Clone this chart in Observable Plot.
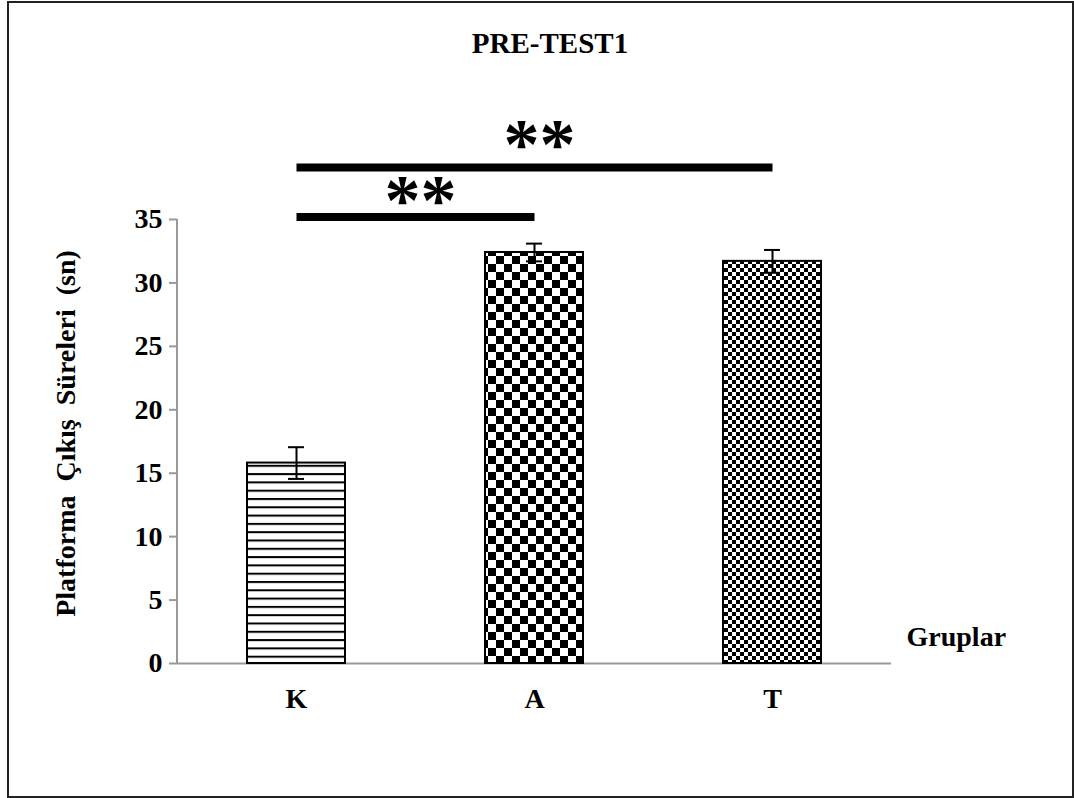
<!DOCTYPE html>
<html>
<head>
<meta charset="utf-8">
<script src="https://cdn.jsdelivr.net/npm/d3@7"></script>
<script src="https://cdn.jsdelivr.net/npm/@observablehq/plot@0.6"></script>
<style>
  html, body { margin: 0; padding: 0; background: #fff; }
  #wrap { position: relative; width: 1074px; height: 798px; font-family: "Liberation Serif", "Times New Roman", serif; }
  #border { position: absolute; left: 7px; top: 1px; width: 1063px; height: 793px; border: 2px solid #222; box-sizing: content-box; pointer-events: none; }
  #title { position: absolute; left: 13px; width: 1074px; top: 29px; line-height: 29px; text-align: center; font-weight: bold; font-size: 29px; }
  #chart { position: absolute; left: 0; top: 0; }
</style>
</head>
<body>
<div id="wrap">
  <div id="chart"></div>
  <div id="title">PRE-TEST1</div>
  <div id="border"></div>
</div>
<script>
const groups = ["K", "A", "T"];
const means = [15.8, 32.4, 31.7];
const errors = [1.25, 0.7, 0.9];
const patterns = ["hlines", "checker", "finechecker"];
const yTicks = [0, 5, 10, 15, 20, 25, 30, 35];
const sigFrom = ["K", "K"];
const sigTo = ["A", "T"];
const sigLevel = [35.2, 39.1];
const sigStarLevel = [37.0, 41.4];
const sigLabel = ["**", "**"];

const data = groups.map((g, i) => ({group: g, mean: means[i], err: errors[i], pat: patterns[i]}));
const sig = sigFrom.map((f, i) => ({from: f, to: sigTo[i], level: sigLevel[i], star: sigStarLevel[i], label: sigLabel[i]}));

const font = '"Liberation Serif", "Times New Roman", serif';
const FS = 28;

function yAxisLine(index, scales, values, dims) {
  const y = scales.y;
  const g = d3.create("svg:g");
  g.append("line")
    .attr("x1", dims.marginLeft).attr("x2", dims.marginLeft)
    .attr("y1", y(0) + 1).attr("y2", y(35))
    .attr("stroke", "#999").attr("stroke-width", 2);
  return g.node();
}

const plot = Plot.plot({
  width: 1074,
  height: 798,
  marginTop: 219,
  marginBottom: 135,
  marginLeft: 177,
  marginRight: 183,
  style: {fontFamily: font, fontSize: FS + "px", fontWeight: "bold", color: "#000", background: "transparent"},
  x: {domain: groups, paddingInner: 0.59, paddingOuter: 0.295, label: null},
  y: {domain: [0, 35], label: null},
  marks: [
    Plot.axisY({ticks: yTicks, tickSize: 8, tickPadding: 7, stroke: "#999", strokeWidth: 2, fill: "#000", fontSize: FS, fontWeight: "bold", label: null}),
    yAxisLine,
    Plot.axisX({tickSize: 0, tickPadding: 25, fontSize: FS, fontWeight: "bold", fill: "#000", label: null}),
    Plot.ruleY([0], {stroke: "#999", strokeWidth: 2}),
    Plot.barY(data, {x: "group", y: "mean", fill: d => `url(#${d.pat})`, stroke: "#000", strokeWidth: 2}),
    Plot.ruleX(data, {x: "group", y1: d => d.mean - d.err, y2: d => d.mean + d.err, stroke: "#000", strokeWidth: 2}),
    Plot.tickY(data.flatMap(d => [{group: d.group, v: d.mean - d.err}, {group: d.group, v: d.mean + d.err}]),
      {x: "group", y: "v", stroke: "#000", strokeWidth: 2, inset: 41}),
    Plot.link(sig, {
      x1: "from", x2: "to", y1: "level", y2: "level",
      stroke: "#000", strokeWidth: 8, strokeLinecap: "butt"
    }),
    Plot.text(sig, {
      x: "from", y: "star", text: "label",
      render(index, scales, values, dimensions, context, next) {
        const g = next(index, scales, values, dimensions, context);
        // the group is already offset by half a band
        d3.select(g).selectAll("text").each(function(_, k) {
          const d = sig[index[k]];
          const xa = scales.x(d.from);
          const xb = scales.x(d.to);
          const y = scales.y(d.star);
          d3.select(this).attr("transform", `translate(${(xa + xb) / 2 + 5},${y + 7})`);
        });
        return g;
      },
      fontSize: 72, fontWeight: "bold", fill: "#000", textAnchor: "middle", lineAnchor: "middle", letterSpacing: 7
    }),
    Plot.text(["Platforma  Çıkış  Süreleri  (sn)"], {
      frameAnchor: "left", text: d => d, rotate: -90, textAnchor: "middle", lineAnchor: "top",
      dx: -122, dy: -8, fontSize: FS, fontWeight: "bold", fill: "#000"
    }),
    Plot.text(["Gruplar"], {frameAnchor: "bottom-right", text: d => d, textAnchor: "start", dx: 15, dy: -18, fontSize: FS, fontWeight: "bold", fill: "#000"})
  ]
});

// Pattern definitions for bar fills
const svg = d3.select(plot);
const defs = svg.insert("defs", ":first-child");
const h = defs.append("pattern").attr("id", "hlines").attr("patternUnits", "userSpaceOnUse").attr("width", 8).attr("height", 8.3);
h.append("rect").attr("width", 8).attr("height", 8.3).attr("fill", "#fff");
h.append("rect").attr("y", 0).attr("width", 8).attr("height", 2).attr("fill", "#000");
const c = defs.append("pattern").attr("id", "checker").attr("patternUnits", "userSpaceOnUse").attr("width", 16).attr("height", 16);
c.append("rect").attr("width", 16).attr("height", 16).attr("fill", "#fff");
c.append("rect").attr("width", 8).attr("height", 8).attr("fill", "#000");
c.append("rect").attr("x", 8).attr("y", 8).attr("width", 8).attr("height", 8).attr("fill", "#000");
const f = defs.append("pattern").attr("id", "finechecker").attr("patternUnits", "userSpaceOnUse").attr("width", 8).attr("height", 8);
f.append("rect").attr("width", 8).attr("height", 8).attr("fill", "#fff");
f.append("rect").attr("width", 4).attr("height", 4).attr("fill", "#000");
f.append("rect").attr("x", 4).attr("y", 4).attr("width", 4).attr("height", 4).attr("fill", "#000");

document.getElementById("chart").appendChild(plot);
</script>
</body>
</html>
